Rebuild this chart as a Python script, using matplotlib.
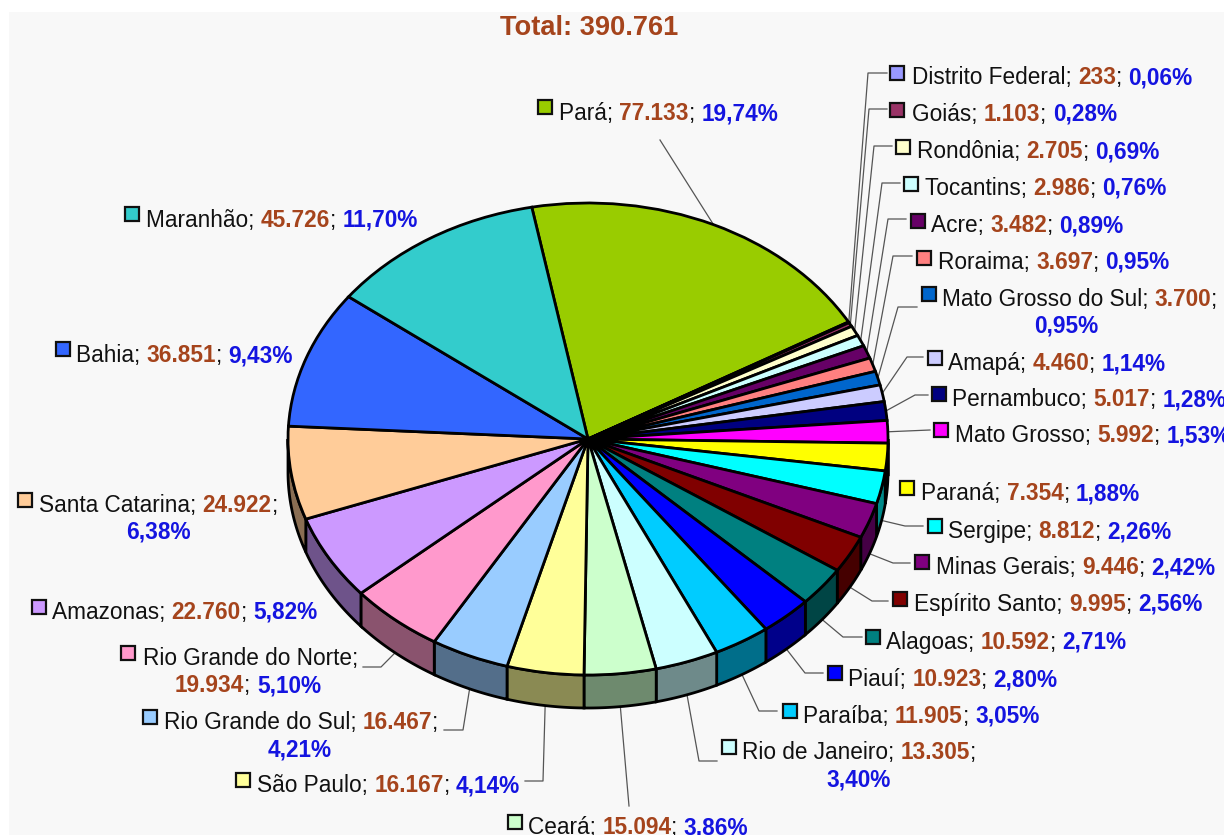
"""
Pseudo 3D pie, total per Brazilian state, with coloured callout labels.
Pie is drawn in its own axes, labels and leaders in a pixel-sized overlay.
"""

import numpy as np
import matplotlib
matplotlib.use("Agg")
import matplotlib.pyplot as plt
from matplotlib.colors import to_rgb
from matplotlib.patches import Rectangle

states = ["Pará", "Distrito Federal", "Goiás", "Rondônia", "Tocantins", "Acre", "Roraima",
          "Mato Grosso do Sul", "Amapá", "Pernambuco", "Mato Grosso", "Paraná", "Sergipe",
          "Minas Gerais", "Espírito Santo", "Alagoas", "Piauí", "Paraíba", "Rio de Janeiro",
          "Ceará", "São Paulo", "Rio Grande do Sul", "Rio Grande do Norte", "Amazonas",
          "Santa Catarina", "Bahia", "Maranhão"]
values = [77133, 233, 1103, 2705, 2986, 3482, 3697, 3700, 4460, 5017, 5992, 7354, 8812,
          9446, 9995, 10592, 10923, 11905, 13305, 15094, 16167, 16467, 19934, 22760,
          24922, 36851, 45726]
percents = ["19,74%", "0,06%", "0,28%", "0,69%", "0,76%", "0,89%", "0,95%", "0,95%", "1,14%",
            "1,28%", "1,53%", "1,88%", "2,26%", "2,42%", "2,56%", "2,71%", "2,80%", "3,05%",
            "3,40%", "3,86%", "4,14%", "4,21%", "5,10%", "5,82%", "6,38%", "9,43%", "11,70%"]
colors = ["#99CC00", "#9999FF", "#993366", "#FFFFCC", "#CCFFFF", "#660066", "#FF8080",
          "#0066CC", "#CCCCFF", "#000080", "#FF00FF", "#FFFF00", "#00FFFF", "#800080",
          "#800000", "#008080", "#0000FF", "#00CCFF", "#CCFFFF", "#CCFFCC", "#FFFF99",
          "#99CCFF", "#FF99CC", "#CC99FF", "#FFCC99", "#3366FF", "#33CCCC"]

# label layout in pixels: swatch centre x, swatch centre y, text x, text y
label_pos = [(545, 107, 559, 111), (897, 73, 912, 75), (897, 110, 912, 112), (903, 147, 917, 149),
             (911, 184, 925, 186), (918, 221, 931, 223), (924, 258, 938, 260), (929, 294, 942, 297),
             (935, 358, 948, 361), (939, 394, 952, 397), (941, 430, 955, 433), (907, 488, 921, 491),
             (935, 526, 948, 529), (922, 562, 936, 565), (900, 599, 914, 602), (873, 637, 886, 640),
             (835, 673, 848, 677), (790, 711, 803, 714), (729, 747, 742, 750), (515, 822, 528, 825),
             (243, 780, 257, 783), (150, 717, 164, 720), (128, 653, 143, 656), (39, 607, 52, 610),
             (25, 500, 39, 503), (63, 349, 76, 353), (132, 214, 146, 218)]
# wrapped labels: state -> (what goes on line 2, its centre x, its y)
wrapped = {"Mato Grosso do Sul": ("pct", 1066, 324), "Rio de Janeiro": ("pct", 859, 777),
           "Rio Grande do Norte": ("value", 248, 683), "Rio Grande do Sul": ("pct", 300, 747),
           "Santa Catarina": ("pct", 158, 530)}
# leader lines: label end and elbow in pixels, pie end comes from the slice angle
leaders = {"Pará": [(660, 140)],
           "Distrito Federal": [(887, 73), (868, 73)], "Goiás": [(887, 109), (869, 109)],
           "Rondônia": [(892, 146), (874, 146)], "Tocantins": [(900, 183), (882, 183)],
           "Acre": [(906, 219), (888, 219)], "Roraima": [(912, 256), (893, 256)],
           "Mato Grosso do Sul": [(917, 307), (898, 307)], "Amapá": [(923, 357), (907, 357)],
           "Pernambuco": [(928, 395), (915, 395)], "Mato Grosso": [(930, 430)],
           "Sergipe": [(923, 526), (905, 526)], "Minas Gerais": [(910, 563), (893, 563)],
           "Espírito Santo": [(888, 601), (872, 601)], "Alagoas": [(862, 637), (843, 637)],
           "Piauí": [(823, 673), (805, 673)], "Paraíba": [(777, 711), (759, 711)],
           "Rio de Janeiro": [(717, 761), (699, 761)], "Ceará": [(629, 806)],
           "São Paulo": [(525, 781), (543, 781)], "Rio Grande do Sul": [(444, 730), (463, 730)],
           "Rio Grande do Norte": [(363, 667), (381, 667)]}

BROWN = "#A5441C"
BLUE = "#1414E0"
FS = 16.3
START = 10.8          # first slice edge, degrees left of 12 o'clock
CX, CY, RX, RY = 588, 439, 300, 236
DEPTH = 33

plt.rcParams["font.family"] = ["Liberation Sans", "DejaVu Sans"]
fig = plt.figure(figsize=(12.24, 8.35), dpi=100, facecolor="white")

over = fig.add_axes([0, 0, 1, 1])
over.set_xlim(0, 1224)
over.set_ylim(835, 0)
over.axis("off")
over.add_patch(Rectangle((9, 12), 1215, 823, fc="#F8F8F8", ec="none", zorder=0))

pie_ax = fig.add_axes([(CX - RX) / 1224, 1 - (CY + RY) / 835, 2 * RX / 1224, 2 * RY / 835])
pie_ax.pie(values, colors=colors, startangle=90 + START, counterclock=False, radius=1,
           wedgeprops=dict(ec="black", lw=2, clip_on=False, zorder=3))
pie_ax.set_aspect("auto")
pie_ax.set_xlim(-1, 1)
pie_ax.set_ylim(-1, 1)
pie_ax.patch.set_visible(False)

# angle measured clockwise from the top
edges = -START + 360 * np.cumsum([0] + values) / sum(values)
d = DEPTH / RY
for a0, a1, col in zip(edges[:-1], edges[1:], colors):
    lo, hi = max(a0, 90), min(a1, 270)
    if hi <= lo:
        continue
    t = np.radians(np.linspace(lo, hi, 40))
    xs = np.r_[np.sin(t), np.sin(t[::-1])]
    ys = np.r_[np.cos(t), np.cos(t[::-1]) - d]
    shade = tuple(0.54 * c for c in to_rgb(col))
    pie_ax.fill(xs, ys, fc=shade, ec="black", lw=2, clip_on=False, zorder=2)


def put_pieces(pieces, x, y, centre=False):
    # text runs of mixed colour, placed one after the other
    rend = fig.canvas.get_renderer()
    arts = []
    for txt, col, weight in pieces:
        arts.append(over.text(x, y, txt, color=col, fontweight=weight, fontsize=FS,
                              va="center_baseline", ha="left", zorder=5))
    widths = [a.get_window_extent(rend).width for a in arts]
    if centre:
        x -= sum(widths) / 2
    for a, w in zip(arts, widths):
        a.set_x(x)
        x += w


name_col = "#111111"
for i, state in enumerate(states):
    sx, sy, tx, ty = label_pos[i]
    over.add_patch(Rectangle((sx - 7, sy - 7), 14, 14, fc=colors[i], ec="#101010", lw=1.6, zorder=5))
    val = f"{values[i]:,}".replace(",", ".")
    name_run = (state + "; ", name_col, "normal")
    val_run = (val, BROWN, "bold")
    sep_run = ("; ", name_col, "normal")
    pct_run = (percents[i], BLUE, "bold")
    if state not in wrapped:
        put_pieces([name_run, val_run, sep_run, pct_run], tx, ty)
    else:
        kind, cx2, y2 = wrapped[state]
        if kind == "pct":
            put_pieces([name_run, val_run, (";", name_col, "normal")], tx, ty)
            put_pieces([pct_run], cx2, y2, centre=True)
        else:
            put_pieces([(state + ";", name_col, "normal")], tx, ty)
            put_pieces([val_run, sep_run, pct_run], cx2, y2, centre=True)

    if state in leaders:
        mid = np.radians((edges[i] + edges[i + 1]) / 2)
        px = CX + RX * np.sin(mid)
        py = CY - RY * np.cos(mid)
        if np.cos(mid) < 0:
            py += DEPTH
        pts = leaders[state] + [(px, py)]
        over.plot([p[0] for p in pts], [p[1] for p in pts], color="#555555", lw=0.9, zorder=1)

over.text(589, 28, "Total: 390.761", color=BROWN, fontweight="bold", fontsize=19.6,
          ha="center", va="center", zorder=5)

fig.savefig("out.png", dpi=100)
